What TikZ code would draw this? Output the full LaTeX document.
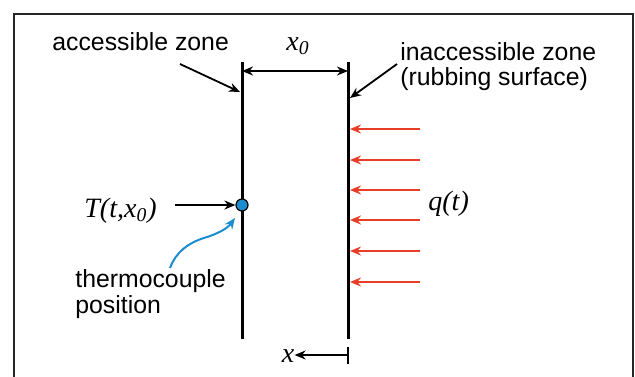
\documentclass[tikz,border=0pt]{standalone}
\usepackage{fontspec}
\setmainfont{Liberation Serif}
\setsansfont{Liberation Sans}
\usetikzlibrary{arrows.meta}

\definecolor{fluxRed}{RGB}{232,62,40}
\definecolor{sensorBlue}{RGB}{28,140,208}

\begin{document}
\begin{tikzpicture}[
    x=0.5pt, y=-0.5pt,
    >={Stealth[length=5.5pt,width=4.5pt]},
    labelText/.style={
        font=\sffamily\fontsize{12.4pt}{12.5pt}\selectfont,
        inner sep=0pt,
        align=left
    },
    symText/.style={
        font=\itshape\fontsize{14pt}{16pt}\selectfont,
        inner sep=0pt
    },
    wallLine/.style={
        line width=1.5pt,
        draw=black
    },
    pointerLine/.style={
        line width=0.9pt,
        draw=black,
        ->
    },
    dimLine/.style={
        line width=0.9pt,
        draw=black,
        <->
    },
    fluxLine/.style={
        line width=1pt,
        draw=fluxRed,
        ->
    },
    sensorDot/.style={
        circle,
        draw=black,
        line width=0.6pt,
        fill=sensorBlue,
        inner sep=0pt,
        minimum size=6pt
    }
]

\useasboundingbox (0,0) rectangle (635,376);

% ==================== FRAME ====================
\draw[line width=0.75pt, black!85] (14,390) -- (14,14) -- (633,14) -- (633,390);

% ==================== WALLS ====================
\coordinate (wallLTop) at (242,62);
\coordinate (wallLBot) at (242,339);
\coordinate (wallRTop) at (348,62);
\coordinate (wallRBot) at (348,339);

\draw[wallLine] (wallLTop) -- (wallLBot);
\draw[wallLine] (wallRTop) -- (wallRBot);

% ==================== THICKNESS x0 ====================
\coordinate (dimL) at (242,71);
\coordinate (dimR) at (348,71);
\node[symText, anchor=base west] (lblWidth) at (286,50) {x\textsubscript{0}};

\draw[dimLine] (dimL) -- (dimR);

% ==================== ZONE LABELS ====================
\node[labelText, anchor=base west] (lblAccess) at (52,50) {accessible zone};
% base of a two-line node sits on its last line
\node[labelText, anchor=base west] (lblInaccess) at (400,85) {inaccessible zone\\(rubbing surface)};

\coordinate (accTail) at (180,64);
\coordinate (accTip) at (240,92);
\coordinate (inaccTail) at (397,64);
\coordinate (inaccTip) at (350,98);

\draw[pointerLine] (accTail) -- (accTip);
\draw[pointerLine] (inaccTail) -- (inaccTip);

% ==================== HEAT FLUX q(t) ====================
\node[symText, anchor=base west] (lblFlux) at (428,210) {q(t)};

\draw[fluxLine] (420,129) -- (350,129);
\draw[fluxLine] (420,160) -- (350,160);
\draw[fluxLine] (420,190) -- (350,190);
\draw[fluxLine] (420,220) -- (350,220);
\draw[fluxLine] (420,251) -- (350,251);
\draw[fluxLine] (420,282) -- (350,282);

% ==================== THERMOCOUPLE ====================
\node[sensorDot] (tcDot) at (242,205) {};
\node[symText, anchor=base west] (lblTemp) at (84,217) {T(t,x\textsubscript{0})};
\node[labelText, font=\sffamily\fontsize{12.4pt}{11.5pt}\selectfont, anchor=base west] (lblThermo) at (75,313) {thermocouple\\position};

\coordinate (tempTail) at (175,205);
\coordinate (curveTail) at (170,268);
\coordinate (curveTip) at (235,218);

\draw[pointerLine] (tempTail) -- (tcDot.west);
\draw[line width=1pt, draw=sensorBlue, ->] (curveTail) .. controls (176,252) and (188,243) .. (204,238)
    .. controls (217,234) and (227,229) .. (curveTip);

% ==================== COORDINATE x ====================
\coordinate (tickTop) at (348,347);
\coordinate (tickBot) at (348,364);
\coordinate (xTail) at (348,355);
\node[symText, anchor=base] (lblX) at (288,362) {x};

\draw[line width=0.9pt] (tickTop) -- (tickBot);
\draw[pointerLine] (xTail) -- (lblX.east |- xTail);

\end{tikzpicture}
\end{document}
